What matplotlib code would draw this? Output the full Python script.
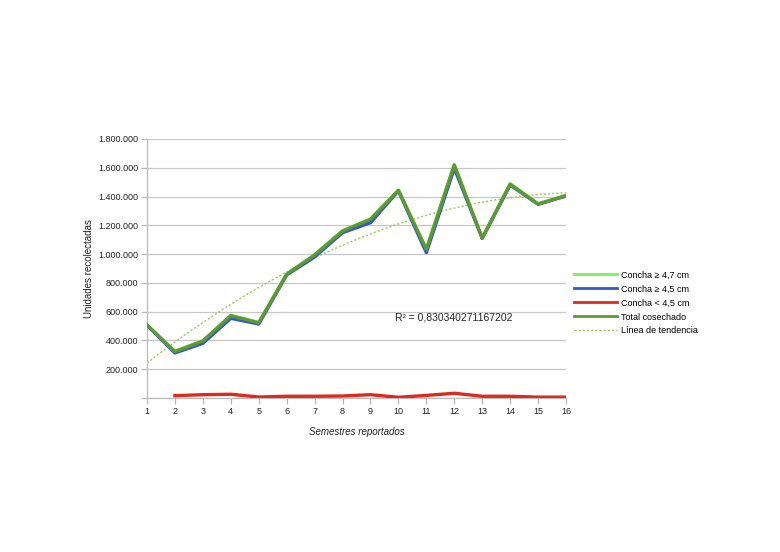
import numpy as np
import matplotlib
matplotlib.use("Agg")
import matplotlib.pyplot as plt
from matplotlib.ticker import FuncFormatter

plt.rcParams['font.family'] = ['Liberation Sans', 'DejaVu Sans']

semestres = list(range(1, 17))
total = [507000, 322000, 396000, 572000, 523000, 860000, 994000, 1160000,
         1242000, 1443000, 1033000, 1619000, 1110000, 1485000, 1348000, 1406000]
concha_47 = [507000, 325000, 398000, 574000, 524000, 862000, 995000, 1162000,
             1244000, 1445000, 1036000, 1622000, 1112000, 1490000, 1350000, 1408000]
concha_45 = [507000, 313000, 380000, 554000, 514000, 855000, 980000, 1149000,
             1218000, 1440000, 1010000, 1596000, 1110000, 1480000, 1346000, 1404000]
sem_menor = list(range(2, 17))
concha_menor = [16000, 23000, 26000, 7000, 12000, 12000, 14000, 23000,
                5000, 18000, 33000, 12000, 12000, 6000, 6000]
r2_text = "R² = 0,830340271167202"

fig = plt.figure(figsize=(7.8, 5.52), dpi=100)
ax = fig.add_axes([147/780, 1-398/552, (566-147)/780, (398-139)/552])

ax.plot(semestres, concha_47, color='#7fef5f', lw=2.4, label='Concha ≥ 4,7 cm', zorder=3)
ax.plot(semestres, concha_45, color='#3358c8', lw=2.4, label='Concha ≥ 4,5 cm', zorder=3)
ax.plot(sem_menor, concha_menor, color='#dd2a1e', lw=2.4, label='Concha < 4,5 cm', zorder=3)
ax.plot(semestres, total, color='#5e9a32', lw=2.4, label='Total cosechado', zorder=4)

# polynomial trend (degree 2) of total
x = np.array(semestres, dtype=float)
coef = np.polyfit(x, np.array(total, dtype=float), 2)
xs = np.linspace(1, 16, 200)
ax.plot(xs, np.polyval(coef, xs), color='#9cc860', lw=1.0, ls=(0, (1.5, 1.5)),
        label='Línea de tendencia', zorder=2)

ax.set_xlim(1, 16)
ax.set_ylim(0, 1800000)
ax.set_xticks(semestres)
ax.set_yticks(np.arange(0, 1800001, 200000))
ax.yaxis.set_major_formatter(FuncFormatter(
    lambda v, p: '' if v == 0 else f"{int(v):,}".replace(',', '.')))
ax.grid(axis='y', color='#c8c8c8', lw=0.9)
ax.set_axisbelow(True)
for s in ['top', 'right']:
    ax.spines[s].set_visible(False)
for s in ['left', 'bottom']:
    ax.spines[s].set_color('#bbbbbb')
    ax.spines[s].set_linewidth(0.9)
ax.tick_params(axis='both', colors='#bbbbbb', labelcolor='#222222',
               labelsize=6.5, length=4, width=0.9, pad=2.5)
ax.set_ylabel('Unidades recolectadas', fontsize=7, color='#222222', labelpad=3)
ax.set_xlabel('Semestres reportados', fontsize=7, style='italic', color='#222222', labelpad=8)

fig.text(395/780, 1-318/552, r2_text, fontsize=7.5, color='#222222', va='center')

leg = fig.legend(loc='upper left', bbox_to_anchor=(570/780, 1-267/552),
                 frameon=False, fontsize=6.5, handlelength=4.8, handletextpad=0.4,
                 labelspacing=0.55, borderaxespad=0)
for h in leg.get_lines()[:4]:
    h.set_linewidth(2.0)

fig.savefig('out.png', dpi=100)
